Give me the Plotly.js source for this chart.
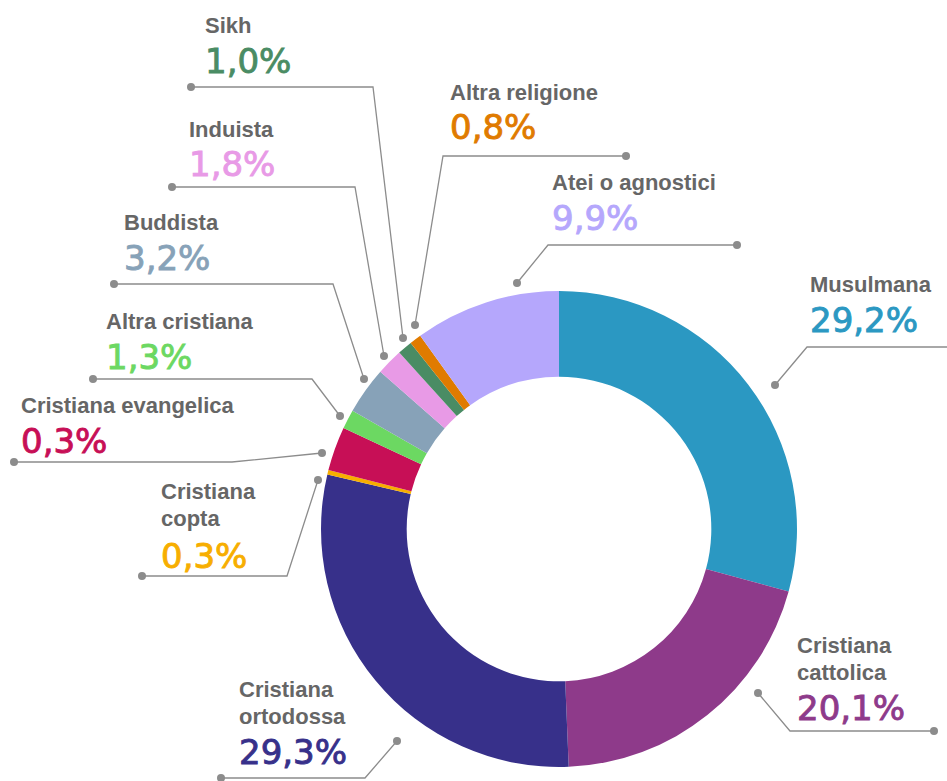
<!DOCTYPE html>
<html>
<head>
<meta charset="utf-8">
<script src="https://cdn.plot.ly/plotly-3.0.1.min.js"></script>
<style>html,body{margin:0;padding:0;background:#fff;}#chart{width:947px;height:781px;}</style>
</head>
<body>
<div id="chart"></div>
<script>
// ---- data ----
var categories = ["Musulmana", "Cristiana<br>cattolica", "Cristiana<br>ortodossa", "Cristiana<br>copta",
  "Cristiana evangelica", "Altra cristiana", "Buddista", "Induista", "Sikh", "Altra religione", "Atei o agnostici"];
var values = [29.2, 20.1, 29.3, 0.3, 3.0, 1.3, 3.2, 1.8, 1.0, 0.8, 9.9];
var pctLabels = ["29,2%", "20,1%", "29,3%", "0,3%", "0,3%", "1,3%", "3,2%", "1,8%", "1,0%", "0,8%", "9,9%"];
var colors = ["#2B98C2", "#8E3A8A", "#37308A", "#F7AE00", "#C70F56", "#6CD862", "#87A2B8",
  "#E89AE6", "#4A8C64", "#E07B00", "#B5A7FC"];

// ---- layout helpers (pixel -> paper) ----
var W = 947, H = 781;
function px(x) { return x / W; }
function py(y) { return 1 - y / H; }

// label placement: left x, first-line baseline of name, baseline of percentage
var labelPos = [
  [810, 292, 332], [797, 653, 720], [239, 697, 764], [161, 499, 568], [21, 413, 453],
  [106, 329, 369], [124, 230, 270], [189, 137, 176], [205, 33, 73], [450, 100, 139], [552, 190, 230]
];
// leader lines: outer end -> elbow -> slice end ; outer dot shown?
var leaders = [
  [[950, 347], [807, 347], [775, 385], false],
  [[934, 731], [790, 731], [758, 693], true],
  [[221, 778], [365, 778], [397, 741], true],
  [[142, 576], [287, 576], [318, 480], true],
  [[14, 462], [232, 462], [322, 453], true],
  [[93, 379], [312, 379], [340, 416], true],
  [[114, 284], [333, 284], [364, 379], true],
  [[172, 187], [355, 187], [384, 356], true],
  [[191, 87], [373, 87], [403, 338], true],
  [[626, 156], [443, 156], [415, 325], true],
  [[737, 245], [548, 245], [517, 283], true]
];

var nameFont = {family: "Liberation Sans, Arial, sans-serif", size: 22, color: "#666666"};
var pctSize = 34;
var lineGap = 27;

var annotations = [];
var shapes = [];
categories.forEach(function (name, i) {
  var p = labelPos[i];
  var lines = name.split("<br>");
  lines.forEach(function (ln, k) {
    var base = p[1] + k * lineGap;
    annotations.push({
      xref: "paper", yref: "paper", x: px(p[0] - 2), y: py(base - 0.35 * nameFont.size),
      xanchor: "left", yanchor: "middle", showarrow: false, text: "<b>" + ln + "</b>",
      font: nameFont
    });
  });
  annotations.push({
    xref: "paper", yref: "paper", x: px(p[0] - 2), y: py(p[2] - 0.35 * pctSize),
    xanchor: "left", yanchor: "middle", showarrow: false, text: pctLabels[i],
    font: {family: "DejaVu Sans, sans-serif", size: pctSize, color: colors[i]}
  });

  var L = leaders[i];
  var path = "M" + px(L[0][0]) + "," + py(L[0][1]) + " L" + px(L[1][0]) + "," + py(L[1][1]) +
    " L" + px(L[2][0]) + "," + py(L[2][1]);
  shapes.push({type: "path", xref: "paper", yref: "paper", path: path,
    line: {color: "#8c8c8c", width: 1.3}});
  var ends = L[3] ? [L[0], L[2]] : [L[2]];
  ends.forEach(function (e) {
    shapes.push({type: "circle", xref: "paper", yref: "paper",
      x0: px(e[0] - 4), x1: px(e[0] + 4), y0: py(e[1] - 4), y1: py(e[1] + 4),
      fillcolor: "#8c8c8c", line: {width: 0}});
  });
});

var trace = {
  type: "pie",
  labels: categories,
  values: values,
  sort: false,
  direction: "clockwise",
  rotation: 0,
  hole: 0.64,
  textinfo: "none",
  hoverinfo: "none",
  showlegend: false,
  marker: {colors: colors, line: {width: 0}},
  domain: {x: [px(321), px(797)], y: [py(767), py(291)]}
};

var layout = {
  width: W, height: H,
  margin: {l: 0, r: 0, t: 0, b: 0},
  paper_bgcolor: "#ffffff",
  showlegend: false,
  annotations: annotations,
  shapes: shapes
};

Plotly.newPlot("chart", [trace], layout, {displayModeBar: false, staticPlot: true}).then(function (gd) {
  // slightly heavier weight for the percentage figures
  gd.querySelectorAll("text.annotation-text").forEach(function (t) {
    if (parseFloat(t.style.fontSize) === pctSize) {
      t.style.stroke = t.style.fill;
      t.style.strokeWidth = "0.9px";
    }
  });
});
</script>
</body>
</html>
